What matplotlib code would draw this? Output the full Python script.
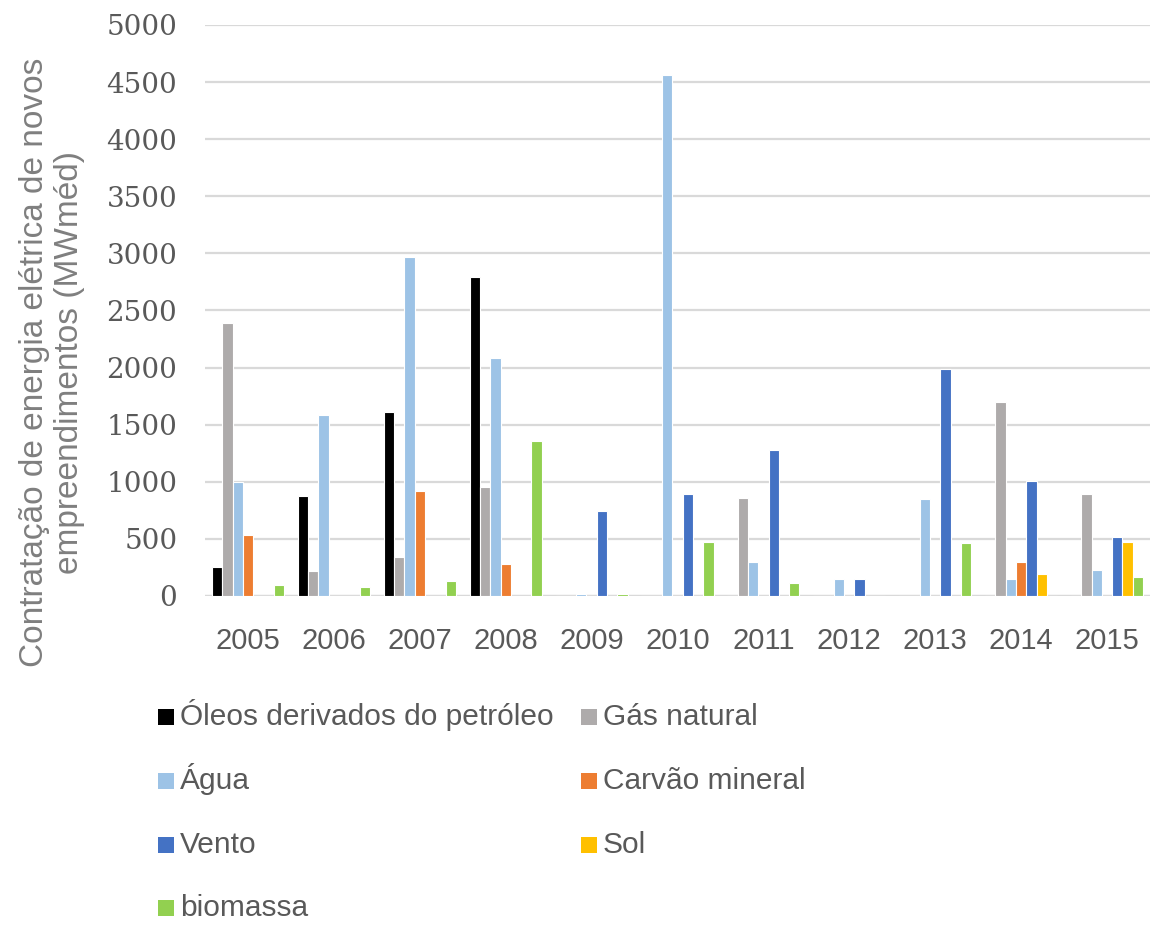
import numpy as np
import matplotlib
matplotlib.use("Agg")
import matplotlib.pyplot as plt
from matplotlib.patches import Rectangle

anos = ["2005", "2006", "2007", "2008", "2009", "2010",
        "2011", "2012", "2013", "2014", "2015"]

# MWméd contratados por fonte e ano
oleos = [250, 875, 1615, 2795, 0, 0, 0, 0, 0, 0, 0]
gas_natural = [2390, 215, 345, 955, 0, 0, 860, 0, 0, 1700, 895]
agua = [1000, 1585, 2970, 2085, 20, 4560, 295, 150, 845, 150, 230]
carvao = [535, 0, 920, 280, 0, 0, 0, 0, 0, 295, 0]
vento = [0, 0, 0, 0, 745, 895, 1280, 150, 1990, 1005, 520]
sol = [0, 0, 0, 0, 0, 0, 0, 0, 0, 195, 475]
biomassa = [100, 80, 135, 1360, 20, 470, 115, 0, 460, 0, 165]

series = [
    ("Óleos derivados do petróleo", oleos, "#000000"),
    ("Gás natural", gas_natural, "#AEABAB"),
    ("Água", agua, "#9DC3E6"),
    ("Carvão mineral", carvao, "#ED7D31"),
    ("Vento", vento, "#4472C4"),
    ("Sol", sol, "#FFC000"),
    ("biomassa", biomassa, "#92D050"),
]

txt = "#595959"
W, H = 1161, 925

fig = plt.figure(figsize=(W / 100, H / 100), dpi=100)
ax = fig.add_axes([0.1766, 0.3557, 0.8139, 0.6173])

x = np.arange(len(anos))
passo = 0.12
for i, (nome, vals, cor) in enumerate(series):
    off = (i - 3) * passo
    ax.bar(x + off, vals, width=passo, color=cor, edgecolor="white",
           linewidth=0.8, label=nome, zorder=3)

ax.set_xlim(-0.5, len(anos) - 0.5)
ax.set_ylim(0, 5000)
ax.set_yticks(np.arange(0, 5001, 500))
ax.set_xticks(x)
ax.set_xticklabels(anos, fontsize=21, color=txt, family="Liberation Sans")
for lab in ax.get_yticklabels():
    lab.set_fontsize(20)
    lab.set_color(txt)
    lab.set_family("DejaVu Serif")
ax.tick_params(axis="both", length=0)
ax.tick_params(axis="x", pad=22)
ax.tick_params(axis="y", pad=20)
ax.grid(axis="y", color="#D9D9D9", linewidth=1.6, zorder=0)
for s in ["top", "right", "left", "bottom"]:
    ax.spines[s].set_visible(False)
ax.axhline(0, color="#D9D9D9", linewidth=1.6, zorder=2)

fig.text(52 / W, 1 - 362 / H,
         "Contratação de energia elétrica de novos\nempreendimentos (MWméd)",
         rotation=90, ha="center", va="center", multialignment="center",
         fontsize=24, color="#7F7F7F", family="Liberation Sans",
         linespacing=1.2)

# legenda em duas colunas, preenchida por linha
col_x = [158, 581]
lin_y = [717, 781, 845, 908]
tam = 16
for i, (nome, vals, cor) in enumerate(series):
    cx = col_x[i % 2]
    cy = lin_y[i // 2]
    fig.add_artist(Rectangle((cx / W, 1 - (cy + tam / 2) / H), tam / W, tam / H,
                             transform=fig.transFigure, facecolor=cor,
                             edgecolor="none"))
    fig.text((cx + tam + 6) / W, 1 - (cy + 8) / H, nome, ha="left",
             va="baseline", fontsize=21.5, color=txt,
             family="Liberation Sans")

fig.savefig("out.png", dpi=100)
